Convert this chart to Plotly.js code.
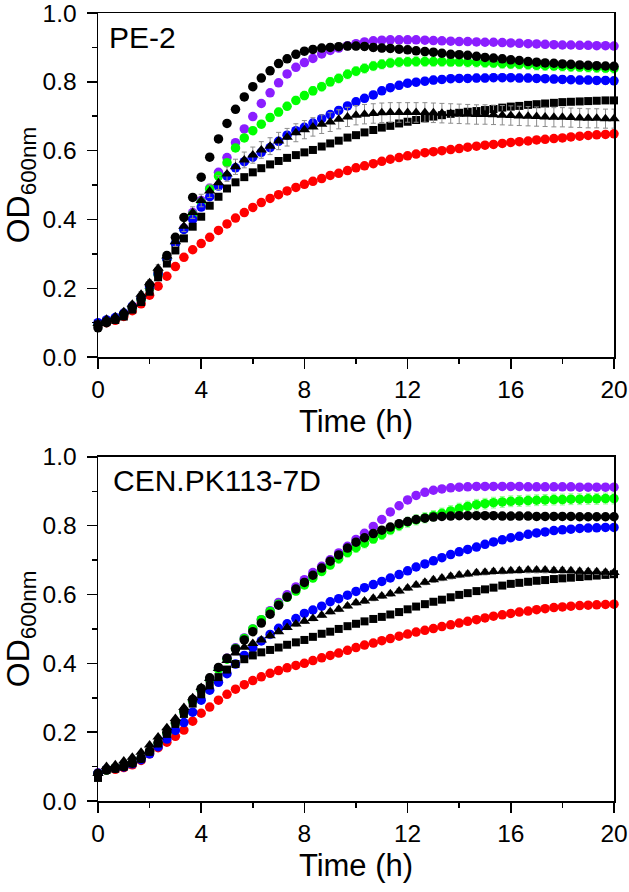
<!DOCTYPE html>
<html>
<head>
<meta charset="utf-8">
<script src="https://cdn.plot.ly/plotly-3.0.1.min.js"></script>
<style>html,body{margin:0;padding:0;background:#fff;}#chart{width:629px;height:892px;}</style>
</head>
<body>
<div id="chart"></div>
<script>
// Time points (h), sampled every 20 min
const timeH = [0,0.33,0.67,1,1.33,1.67,2,2.33,2.67,3,3.33,3.67,4,4.33,4.67,5,5.33,5.67,6,6.33,6.67,7,7.33,7.67,8,8.33,8.67,9,9.33,9.67,10,10.33,10.67,11,11.33,11.67,12,12.33,12.67,13,13.33,13.67,14,14.33,14.67,15,15.33,15.67,16,16.33,16.67,17,17.33,17.67,18,18.33,18.67,19,19.33,19.67,20];

// ---- PE-2 (top panel) ----
const pe2Red = [0.095,0.1,0.107,0.118,0.135,0.155,0.18,0.206,0.235,0.263,0.29,0.312,0.33,0.348,0.368,0.387,0.404,0.42,0.435,0.449,0.461,0.472,0.483,0.493,0.502,0.511,0.519,0.528,0.534,0.542,0.55,0.556,0.562,0.569,0.575,0.58,0.585,0.59,0.594,0.597,0.6,0.603,0.606,0.61,0.613,0.616,0.618,0.621,0.624,0.626,0.628,0.631,0.633,0.635,0.637,0.64,0.642,0.644,0.646,0.647,0.649];
const pe2Purple = [0.095,0.105,0.112,0.125,0.142,0.165,0.2,0.24,0.285,0.33,0.375,0.42,0.455,0.491,0.537,0.58,0.623,0.663,0.699,0.737,0.768,0.797,0.823,0.842,0.856,0.868,0.881,0.891,0.898,0.905,0.911,0.916,0.919,0.921,0.922,0.922,0.922,0.922,0.921,0.92,0.919,0.918,0.917,0.917,0.916,0.915,0.915,0.914,0.913,0.912,0.911,0.91,0.909,0.908,0.907,0.907,0.906,0.906,0.905,0.905,0.904];
const pe2Green = [0.095,0.105,0.112,0.125,0.143,0.167,0.2,0.24,0.285,0.33,0.372,0.415,0.45,0.488,0.526,0.565,0.608,0.637,0.658,0.677,0.696,0.712,0.729,0.746,0.76,0.774,0.786,0.8,0.81,0.822,0.831,0.839,0.846,0.851,0.855,0.857,0.858,0.859,0.859,0.859,0.859,0.858,0.858,0.857,0.857,0.856,0.855,0.853,0.852,0.851,0.85,0.848,0.847,0.846,0.845,0.844,0.843,0.842,0.841,0.84,0.839];
const pe2Blue = [0.1,0.108,0.115,0.128,0.148,0.172,0.205,0.242,0.285,0.33,0.371,0.4,0.436,0.466,0.497,0.526,0.55,0.568,0.581,0.595,0.609,0.627,0.645,0.658,0.668,0.68,0.693,0.705,0.717,0.73,0.742,0.752,0.762,0.774,0.783,0.79,0.796,0.799,0.802,0.805,0.807,0.809,0.81,0.81,0.811,0.811,0.812,0.812,0.812,0.811,0.811,0.81,0.809,0.808,0.807,0.806,0.805,0.805,0.804,0.804,0.803];
const pe2Square = [0.095,0.103,0.108,0.118,0.138,0.16,0.19,0.232,0.272,0.31,0.345,0.379,0.408,0.44,0.466,0.49,0.508,0.523,0.537,0.549,0.56,0.57,0.579,0.587,0.595,0.602,0.612,0.621,0.629,0.638,0.645,0.653,0.66,0.667,0.672,0.679,0.684,0.689,0.694,0.699,0.703,0.707,0.71,0.713,0.715,0.718,0.721,0.725,0.728,0.73,0.733,0.735,0.737,0.739,0.741,0.742,0.743,0.744,0.745,0.746,0.746];
const pe2Triangle = [0.098,0.11,0.117,0.132,0.154,0.183,0.216,0.258,0.294,0.335,0.38,0.42,0.455,0.483,0.507,0.532,0.553,0.573,0.587,0.602,0.613,0.628,0.639,0.652,0.661,0.669,0.677,0.683,0.691,0.698,0.703,0.706,0.708,0.71,0.711,0.711,0.711,0.711,0.711,0.71,0.709,0.708,0.707,0.706,0.705,0.705,0.704,0.703,0.702,0.701,0.7,0.699,0.698,0.697,0.697,0.696,0.695,0.694,0.694,0.693,0.693];
const pe2Circle = [0.085,0.1,0.11,0.125,0.145,0.17,0.21,0.25,0.295,0.348,0.406,0.464,0.523,0.581,0.634,0.679,0.72,0.756,0.786,0.811,0.832,0.853,0.867,0.88,0.889,0.894,0.898,0.9,0.902,0.904,0.904,0.903,0.9,0.898,0.897,0.895,0.893,0.89,0.888,0.886,0.883,0.88,0.879,0.877,0.874,0.871,0.869,0.867,0.864,0.862,0.859,0.857,0.855,0.854,0.852,0.851,0.849,0.848,0.847,0.846,0.845];

// ---- CEN.PK113-7D (bottom panel) ----
const cenRed = [0.08,0.09,0.092,0.097,0.105,0.118,0.137,0.155,0.171,0.188,0.206,0.232,0.255,0.273,0.293,0.31,0.325,0.338,0.35,0.361,0.371,0.379,0.387,0.394,0.4,0.408,0.416,0.423,0.43,0.438,0.446,0.453,0.459,0.466,0.472,0.479,0.485,0.491,0.496,0.501,0.507,0.512,0.517,0.522,0.527,0.532,0.537,0.541,0.545,0.549,0.552,0.556,0.559,0.562,0.564,0.566,0.568,0.569,0.57,0.571,0.572];
const cenPurple = [0.082,0.09,0.095,0.1,0.11,0.123,0.143,0.167,0.195,0.225,0.257,0.29,0.322,0.354,0.385,0.415,0.445,0.474,0.5,0.527,0.553,0.577,0.599,0.622,0.643,0.664,0.682,0.701,0.721,0.74,0.76,0.778,0.798,0.818,0.84,0.858,0.875,0.888,0.897,0.903,0.907,0.91,0.912,0.913,0.914,0.914,0.914,0.914,0.914,0.914,0.913,0.913,0.913,0.913,0.913,0.913,0.912,0.912,0.912,0.912,0.912];
const cenGreen = [0.08,0.09,0.096,0.101,0.11,0.123,0.143,0.167,0.196,0.226,0.258,0.29,0.322,0.353,0.383,0.412,0.443,0.472,0.5,0.527,0.551,0.572,0.592,0.61,0.628,0.648,0.667,0.686,0.704,0.722,0.736,0.749,0.762,0.774,0.788,0.8,0.81,0.817,0.823,0.829,0.836,0.843,0.85,0.856,0.861,0.864,0.867,0.869,0.871,0.872,0.873,0.874,0.875,0.876,0.876,0.877,0.877,0.878,0.878,0.879,0.879];
const cenBlue = [0.08,0.092,0.095,0.099,0.108,0.12,0.137,0.158,0.18,0.205,0.228,0.258,0.293,0.322,0.345,0.37,0.398,0.423,0.445,0.465,0.484,0.502,0.515,0.53,0.545,0.555,0.566,0.579,0.588,0.598,0.609,0.62,0.629,0.638,0.648,0.658,0.669,0.68,0.689,0.698,0.707,0.716,0.724,0.731,0.738,0.746,0.753,0.759,0.765,0.769,0.775,0.779,0.782,0.786,0.788,0.79,0.792,0.793,0.794,0.795,0.795];
const cenSquare = [0.067,0.09,0.094,0.1,0.11,0.123,0.143,0.167,0.195,0.224,0.253,0.283,0.31,0.336,0.36,0.382,0.398,0.412,0.423,0.432,0.439,0.446,0.454,0.461,0.468,0.477,0.486,0.492,0.5,0.508,0.515,0.522,0.529,0.535,0.542,0.549,0.557,0.565,0.572,0.579,0.585,0.592,0.599,0.604,0.61,0.615,0.62,0.626,0.631,0.634,0.637,0.64,0.642,0.645,0.647,0.649,0.651,0.653,0.655,0.657,0.659];
const cenTriangle = [0.08,0.1,0.105,0.116,0.127,0.142,0.163,0.186,0.213,0.24,0.272,0.3,0.33,0.356,0.385,0.408,0.43,0.447,0.458,0.468,0.48,0.492,0.504,0.514,0.522,0.53,0.54,0.55,0.557,0.567,0.576,0.581,0.589,0.596,0.602,0.61,0.619,0.628,0.636,0.643,0.648,0.653,0.657,0.66,0.663,0.665,0.667,0.668,0.669,0.67,0.671,0.671,0.671,0.67,0.67,0.669,0.668,0.667,0.666,0.665,0.664];
const cenCircle = [0.08,0.09,0.095,0.1,0.11,0.124,0.145,0.17,0.2,0.23,0.262,0.295,0.327,0.358,0.388,0.415,0.442,0.468,0.492,0.517,0.543,0.569,0.593,0.616,0.635,0.656,0.677,0.697,0.715,0.735,0.752,0.765,0.777,0.787,0.796,0.806,0.812,0.818,0.822,0.825,0.827,0.828,0.829,0.829,0.829,0.829,0.829,0.828,0.828,0.828,0.828,0.827,0.827,0.827,0.827,0.827,0.826,0.826,0.826,0.826,0.826];

// Error bars as percent of value (SD), read per series
const pe2ErrPct = {red:1.0, purple:0.8, green:1.6, blue:1.4, square:0.9, triangle:4.0, circle:1.2};
const cenErrPct = {red:0.8, purple:0.7, green:1.8, blue:1.1, square:1.0, triangle:1.2, circle:1.1};

const panelLabels = ['PE-2', 'CEN.PK113-7D'];

const styles = {
  red:      {color:'#FF0000', err:'#FF8C8C', symbol:'circle', size:9.5},
  purple:   {color:'#8B1EFF', err:'#C79BFF', symbol:'circle', size:9.5},
  green:    {color:'#00FF00', err:'#8CFF8C', symbol:'circle', size:9.5},
  blue:     {color:'#0000FF', err:'#8C8CFF', symbol:'circle', size:9.5},
  square:   {color:'#000000', err:'#8C8C8C', symbol:'square', size:8},
  triangle: {color:'#000000', err:'#8C8C8C', symbol:'triangle-up', size:10},
  circle:   {color:'#000000', err:'#8C8C8C', symbol:'circle', size:9.5}
};

function mk(y, key, errPct, xa, ya) {
  const s = styles[key];
  return {
    x: timeH, y: y, type: 'scatter', mode: 'markers', xaxis: xa, yaxis: ya,
    cliponaxis: false, hoverinfo: 'skip',
    marker: {color: s.color, symbol: s.symbol, size: s.size, line: {width: 0}},
    error_y: {type: 'percent', value: errPct, color: s.err, thickness: 1, width: 2.5}
  };
}

const data = [
  mk(pe2Red, 'red', pe2ErrPct.red, 'x2', 'y2'),
  mk(pe2Purple, 'purple', pe2ErrPct.purple, 'x2', 'y2'),
  mk(pe2Green, 'green', pe2ErrPct.green, 'x2', 'y2'),
  mk(pe2Blue, 'blue', pe2ErrPct.blue, 'x2', 'y2'),
  mk(pe2Square, 'square', pe2ErrPct.square, 'x2', 'y2'),
  mk(pe2Triangle, 'triangle', pe2ErrPct.triangle, 'x2', 'y2'),
  mk(pe2Circle, 'circle', pe2ErrPct.circle, 'x2', 'y2'),
  mk(cenRed, 'red', cenErrPct.red, 'x', 'y'),
  mk(cenPurple, 'purple', cenErrPct.purple, 'x', 'y'),
  mk(cenGreen, 'green', cenErrPct.green, 'x', 'y'),
  mk(cenBlue, 'blue', cenErrPct.blue, 'x', 'y'),
  mk(cenSquare, 'square', cenErrPct.square, 'x', 'y'),
  mk(cenTriangle, 'triangle', cenErrPct.triangle, 'x', 'y'),
  mk(cenCircle, 'circle', cenErrPct.circle, 'x', 'y')
];

const FONT = '"Liberation Sans", Arial, Helvetica, sans-serif';

function xAxis(anchor) {
  return {
    anchor: anchor, domain: [0, 1], range: [0, 20], tick0: 0, dtick: 4,
    ticks: 'outside', ticklen: 10, tickwidth: 1.5, tickcolor: '#000',
    showline: true, linewidth: 1.5, linecolor: '#000', mirror: true,
    showgrid: false, zeroline: false, ticklabeloverflow: 'allow',
    minor: {ticks: 'outside', dtick: 2, tick0: 0, ticklen: 5, tickwidth: 1.5, tickcolor: '#000', showgrid: false},
    tickfont: {family: FONT, size: 24.5, color: '#000'},
    title: {text: 'Time (h)', font: {family: FONT, size: 31, color: '#000'}, standoff: 8}
  };
}
function yAxis(anchor, domain) {
  return {
    anchor: anchor, domain: domain, range: [0, 1], tick0: 0, dtick: 0.2, tickformat: '.1f',
    ticks: 'outside', ticklen: 10, tickwidth: 1.5, tickcolor: '#000',
    showline: true, linewidth: 1.5, linecolor: '#000', mirror: true,
    showgrid: false, zeroline: false, ticklabelstandoff: 5, ticklabeloverflow: 'allow',
    minor: {ticks: 'outside', dtick: 0.1, tick0: 0, ticklen: 5, tickwidth: 1.5, tickcolor: '#000', showgrid: false},
    tickfont: {family: FONT, size: 24.5, color: '#000'},
    title: {text: 'OD<sub>600nm</sub>', font: {family: FONT, size: 32, color: '#000'}, standoff: 14}
  };
}

const layout = {
  width: 629, height: 892,
  margin: {l: 98, r: 15, t: 13, b: 91, pad: 0},
  paper_bgcolor: '#fff', plot_bgcolor: '#fff',
  showlegend: false,
  font: {family: FONT, color: '#000'},
  xaxis: xAxis('y'),
  yaxis: yAxis('x', [0, 0.4367]),
  xaxis2: xAxis('y2'),
  yaxis2: yAxis('x2', [0.5633, 1]),
  annotations: [
    {text: panelLabels[0], xref: 'x2 domain', yref: 'y2 domain', x: 0.018, y: 0.928, xanchor: 'left', yanchor: 'middle', showarrow: false, font: {family: FONT, size: 30, color: '#000'}},
    {text: panelLabels[1], xref: 'x domain', yref: 'y domain', x: 0.026, y: 0.932, xanchor: 'left', yanchor: 'middle', showarrow: false, font: {family: FONT, size: 30, color: '#000'}}
  ]
};

Plotly.newPlot('chart', data, layout, {displayModeBar: false, staticPlot: true});
</script>
</body>
</html>
